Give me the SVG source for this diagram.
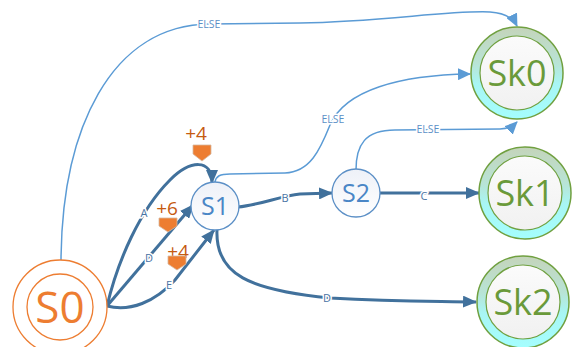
<svg xmlns="http://www.w3.org/2000/svg" width="575" height="347" viewBox="0 0 575 347">
<style>
.edge{fill:none;stroke:#41719c;stroke-width:3}
.else{fill:none;stroke:#5b9bd5;stroke-width:1.5}
.lbl{font-family:"Open Sans","DejaVu Sans",sans-serif;font-size:11px;fill:#4a74a4;text-anchor:middle;stroke:#fff;stroke-width:3;paint-order:stroke}
.elbl{font-family:"Open Sans","DejaVu Sans",sans-serif;font-size:10.5px;fill:#5b8fc6;text-anchor:middle;stroke:#fff;stroke-width:3;paint-order:stroke}
.big{font-family:"Open Sans","DejaVu Sans",sans-serif;text-anchor:middle}
.sk-outer{fill:url(#skring);stroke:#70a040;stroke-width:1.5}
.sk-inner{fill:url(#skin);stroke:#70a040;stroke-width:1.2}
.sk-txt{fill:#6a9a3a;font-size:36px}
.s-c{fill:url(#sfill);stroke:#5b8fc6;stroke-width:1.3}
.s-txt{fill:#4a86c6;font-size:25px}
.pin{fill:#ed7d31;stroke:#d7b8a0;stroke-width:0.8}
.pinT{font-family:"Open Sans","DejaVu Sans",sans-serif;font-size:19px;fill:#c55a11;text-anchor:middle}
</style>
<defs>
<linearGradient id="skring" x1="0" y1="0" x2="0" y2="1">
<stop offset="0" stop-color="#c4d4ba"/>
<stop offset="0.4" stop-color="#b8e4d6"/>
<stop offset="0.62" stop-color="#a8f6f4"/>
<stop offset="1" stop-color="#a4fefe"/>
</linearGradient>
<linearGradient id="skin" x1="0" y1="0" x2="0" y2="1">
<stop offset="0" stop-color="#fbfbfb"/>
<stop offset="1" stop-color="#f1f1f1"/>
</linearGradient>
<linearGradient id="sfill" x1="0" y1="0" x2="0" y2="1">
<stop offset="0" stop-color="#eef1f8"/>
<stop offset="1" stop-color="#ffffff"/>
</linearGradient>
<marker id="ah" markerUnits="userSpaceOnUse" markerWidth="14" markerHeight="12" refX="13" refY="6" orient="auto">
<path d="M0,0 L14,6 L0,12 Z" fill="#41719c"/>
</marker>
<marker id="ahl" markerUnits="userSpaceOnUse" markerWidth="13" markerHeight="12" refX="12" refY="6" orient="auto">
<path d="M0,0 L13,6 L0,12 Z" fill="#5b9bd5"/>
</marker>
</defs>

<g id="connectors">
<path class="else" d="M 61 260 C 62 130, 110 25, 210 24 L 300 23 C 380 22, 450 10, 490 12 C 505 13, 513 18, 517 26" marker-end="url(#ahl)"/>
<path class="else" d="M 215 182 C 216 176, 220 174, 230 174 L 285 173 C 310 172, 320 150, 330 125 C 345 90, 400 75, 470 74" marker-end="url(#ahl)"/>
<path class="else" d="M 356 170 C 356 145, 365 130, 395 130 L 500 129 C 508 129, 513 126, 517 122" marker-end="url(#ahl)"/>
<path class="edge" d="M 107 306 C 118 260, 140 210, 170 180 C 190 160, 212 158, 212 183" marker-end="url(#ah)"/>
<path class="edge" d="M 107 306 L 193 205" marker-end="url(#ah)"/>
<path class="edge" d="M 107 306 C 130 312, 155 302, 175 280 L 214 230" marker-end="url(#ah)"/>
<path class="edge" d="M 238 207 C 260 205, 280 196, 300 194 L 332 193" marker-end="url(#ah)"/>
<path class="edge" d="M 380 193 L 479 193" marker-end="url(#ah)"/>
<path class="edge" d="M 217 230 C 215 275, 250 290, 330 298 C 400 302, 440 301, 476 302" marker-end="url(#ah)"/>
<text class="elbl" x="209" y="28">ELSE</text>
<text class="elbl" x="333" y="123">ELSE</text>
<text class="elbl" x="428" y="133">ELSE</text>
<text class="lbl" x="144" y="217">A</text>
<text class="lbl" x="149" y="262">D</text>
<text class="lbl" x="169" y="289">E</text>
<text class="lbl" x="285" y="202">B</text>
<text class="lbl" x="424" y="200">C</text>
<text class="lbl" x="327" y="302">D</text>
</g>

<g id="S0">
<circle cx="60" cy="307" r="47" fill="#fff" stroke="#ed7d31" stroke-width="1.3"/>
<circle cx="60" cy="307" r="33" fill="#fff" stroke="#ed7d31" stroke-width="1.3"/>
<text class="big" x="60" y="323" font-size="44" fill="#ed7d31">S0</text>
</g>
<g id="S1">
<circle class="s-c" cx="215" cy="206" r="24"/>
<text class="big s-txt" x="215" y="215">S1</text>
</g>
<g id="S2">
<circle class="s-c" cx="356" cy="193" r="24"/>
<text class="big s-txt" x="356" y="202">S2</text>
</g>
<g id="Sk0">
<circle class="sk-outer" cx="517" cy="73" r="46"/>
<circle class="sk-inner" cx="517" cy="73" r="37"/>
<text class="big sk-txt" x="517" y="86">Sk0</text>
</g>
<g id="Sk1">
<circle class="sk-outer" cx="525" cy="193" r="46"/>
<circle class="sk-inner" cx="525" cy="193" r="37"/>
<text class="big sk-txt" x="525" y="206">Sk1</text>
</g>
<g id="Sk2">
<circle class="sk-outer" cx="523" cy="302" r="46"/>
<circle class="sk-inner" cx="523" cy="302" r="37"/>
<text class="big sk-txt" x="523" y="315">Sk2</text>
</g>

<g id="marker1">
<text class="pinT" x="196" y="140">+4</text>
<path class="pin" d="M193 145 H211 V154 L202 161 L193 154 Z"/>
</g>
<g id="marker2">
<text class="pinT" x="167" y="215">+6</text>
<path class="pin" d="M159 218 H177 V226 L168 232 L159 226 Z"/>
</g>
<g id="marker3">
<text class="pinT" x="178" y="258">+4</text>
<path class="pin" d="M168 256 H186 V264 L177 270 L168 264 Z"/>
</g>
</svg>
